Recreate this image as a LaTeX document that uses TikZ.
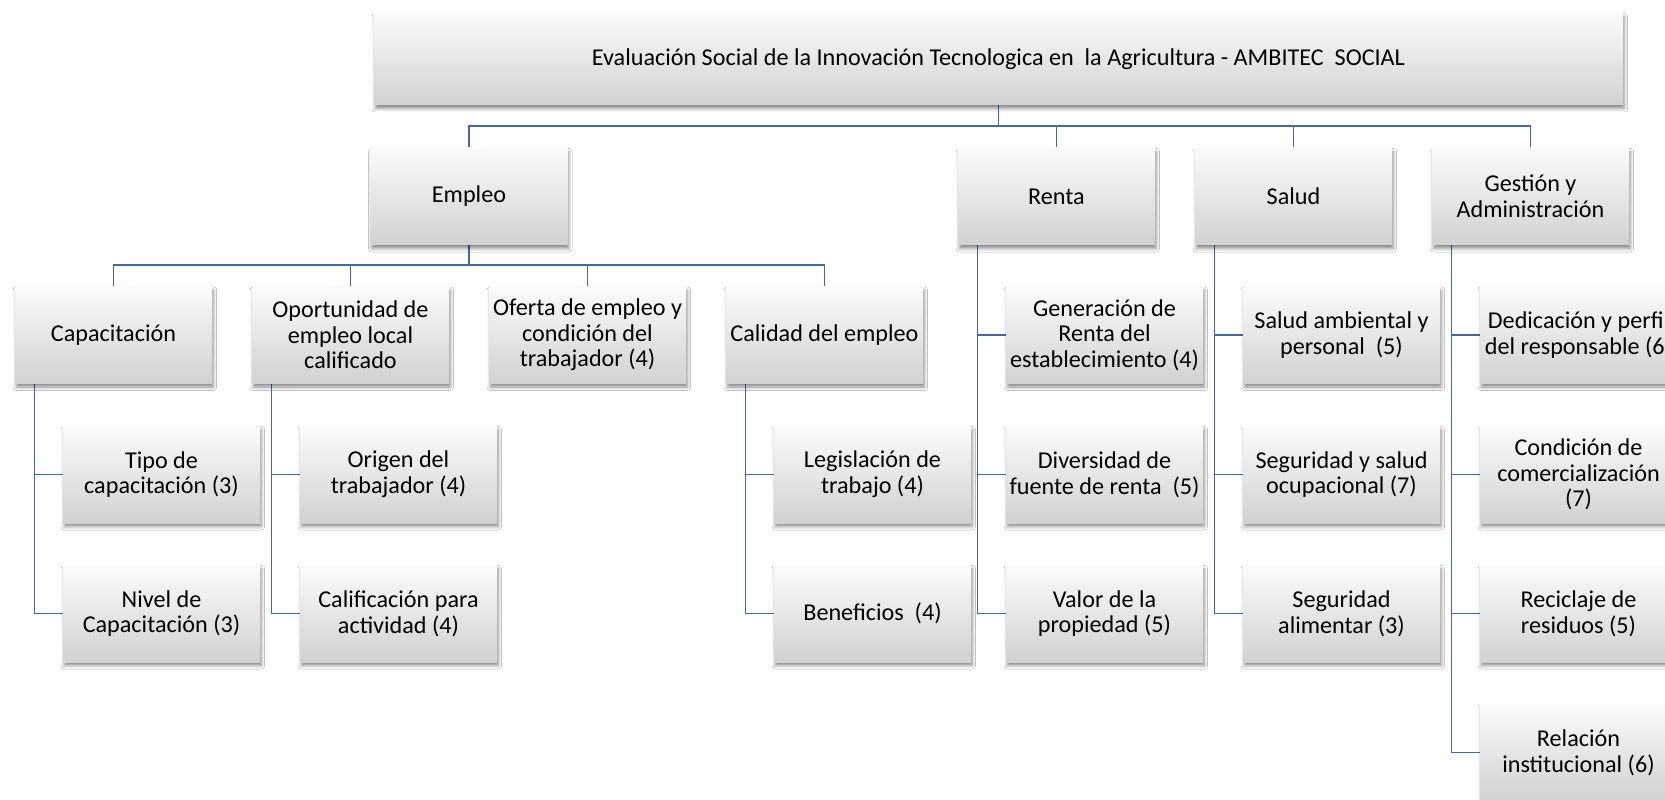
\documentclass[tikz,border=0pt]{standalone}
\usepackage{fontspec}
\setmainfont{Carlito}
\usetikzlibrary{calc,backgrounds,shadows.blur}
\definecolor{lnblue}{RGB}{66,104,170}
\begin{document}
\begin{tikzpicture}[x=0.6pt,y=-0.6pt,
  bx/.style={minimum width=118.2pt, minimum height=58.2pt, inner sep=1pt, align=center,
    top color=gray!3, bottom color=gray!36,
    blur shadow={shadow xshift=0.8pt, shadow yshift=-2.2pt, shadow blur radius=2pt, shadow opacity=45},
    font=\fontsize{14.5}{15.4}\selectfont},
  conn/.style={draw=lnblue, line width=0.9pt}]
\path[use as bounding box] (0,0) rectangle (1665,800);
\clip (0,0) rectangle (1665,800);
% top
\node[bx, minimum width=749.4pt, minimum height=55.2pt] (main) at (998.5,59)
  {Evaluación Social de la Innovación Tecnologica en~ la Agricultura - AMBITEC~ SOCIAL};
% level 1
\node[bx] (emp) at (469,196.5) {Empleo};
\node[bx] (ren) at (1056.5,196.5) {Renta};
\node[bx] (sal) at (1293.5,196.5) {Salud};
\node[bx] (ges) at (1530.5,196.5) {Gestión y\\Administración};
% level 2 under Empleo
\node[bx] (cap) at (113.5,335) {Capacitación};
\node[bx] (opo) at (350.5,335) {Oportunidad de\\empleo local\\calificado};
\node[bx] (ofe) at (587.5,335) {Oferta de empleo y\\condición del\\trabajador (4)};
\node[bx] (cal) at (824.5,335) {Calidad del empleo};
% children of Capacitación
\node[bx] (tip) at (161.5,474.5) {Tipo de\\capacitación (3)};
\node[bx] (niv) at (161.5,613.5) {Nivel de\\Capacitación (3)};
% children of Oportunidad
\node[bx] (ori) at (398.5,474.5) {Origen del\\trabajador (4)};
\node[bx] (cfi) at (398.5,613.5) {Calificación para\\actividad (4)};
% children of Calidad
\node[bx] (leg) at (872.5,474.5) {Legislación de\\trabajo (4)};
\node[bx] (ben) at (872.5,613.5) {Beneficios~ (4)};
% children of Renta
\node[bx] (gen) at (1104.5,335) {Generación de\\Renta del\\establecimiento (4)};
\node[bx] (div) at (1104.5,474.5) {Diversidad de\\fuente de renta~ (5)};
\node[bx] (val) at (1104.5,613.5) {Valor de la\\propiedad (5)};
% children of Salud
\node[bx] (sam) at (1341.5,335) {Salud ambiental y\\personal~ (5)};
\node[bx] (seg) at (1341.5,474.5) {Seguridad y salud\\ocupacional (7)};
\node[bx] (sea) at (1341.5,613.5) {Seguridad\\alimentar (3)};
% children of Gestion
\node[bx] (ded) at (1578.5,335) {Dedicación y perfil\\del responsable (6)};
\node[bx] (con) at (1578.5,474.5) {Condición de\\comercialización\\(7)};
\node[bx] (rec) at (1578.5,613.5) {Reciclaje de\\residuos (5)};
\node[bx] (rel) at (1578.5,752.5) {Relación\\institucional (6)};
% connectors
\begin{scope}[on background layer]
\fill[white] (0,0) rectangle (1665,800);
\coordinate (b1) at (0,126);
\coordinate (b2) at (0,265);
\draw[conn] (main.south) -- (main.south |- b1) -| (emp.north);
\draw[conn] (main.south |- b1) -| (ren.north);
\draw[conn] (main.south |- b1) -| (sal.north);
\draw[conn] (main.south |- b1) -| (ges.north);
\draw[conn] (emp.south) -- (emp.south |- b2) -| (cap.north);
\draw[conn] (emp.south |- b2) -| (opo.north);
\draw[conn] (emp.south |- b2) -| (ofe.north);
\draw[conn] (emp.south |- b2) -| (cal.north);
\draw[conn] ($(cap.south west)+(20,0)$) |- (tip.west);
\draw[conn] ($(cap.south west)+(20,0)$) |- (niv.west);
\draw[conn] ($(opo.south west)+(20,0)$) |- (ori.west);
\draw[conn] ($(opo.south west)+(20,0)$) |- (cfi.west);
\draw[conn] ($(cal.south west)+(20,0)$) |- (leg.west);
\draw[conn] ($(cal.south west)+(20,0)$) |- (ben.west);
\draw[conn] ($(ren.south west)+(20,0)$) |- (gen.west);
\draw[conn] ($(ren.south west)+(20,0)$) |- (div.west);
\draw[conn] ($(ren.south west)+(20,0)$) |- (val.west);
\draw[conn] ($(sal.south west)+(20,0)$) |- (sam.west);
\draw[conn] ($(sal.south west)+(20,0)$) |- (seg.west);
\draw[conn] ($(sal.south west)+(20,0)$) |- (sea.west);
\draw[conn] ($(ges.south west)+(20,0)$) |- (ded.west);
\draw[conn] ($(ges.south west)+(20,0)$) |- (con.west);
\draw[conn] ($(ges.south west)+(20,0)$) |- (rec.west);
\draw[conn] ($(ges.south west)+(20,0)$) |- (rel.west);
\end{scope}
\end{tikzpicture}
\end{document}
